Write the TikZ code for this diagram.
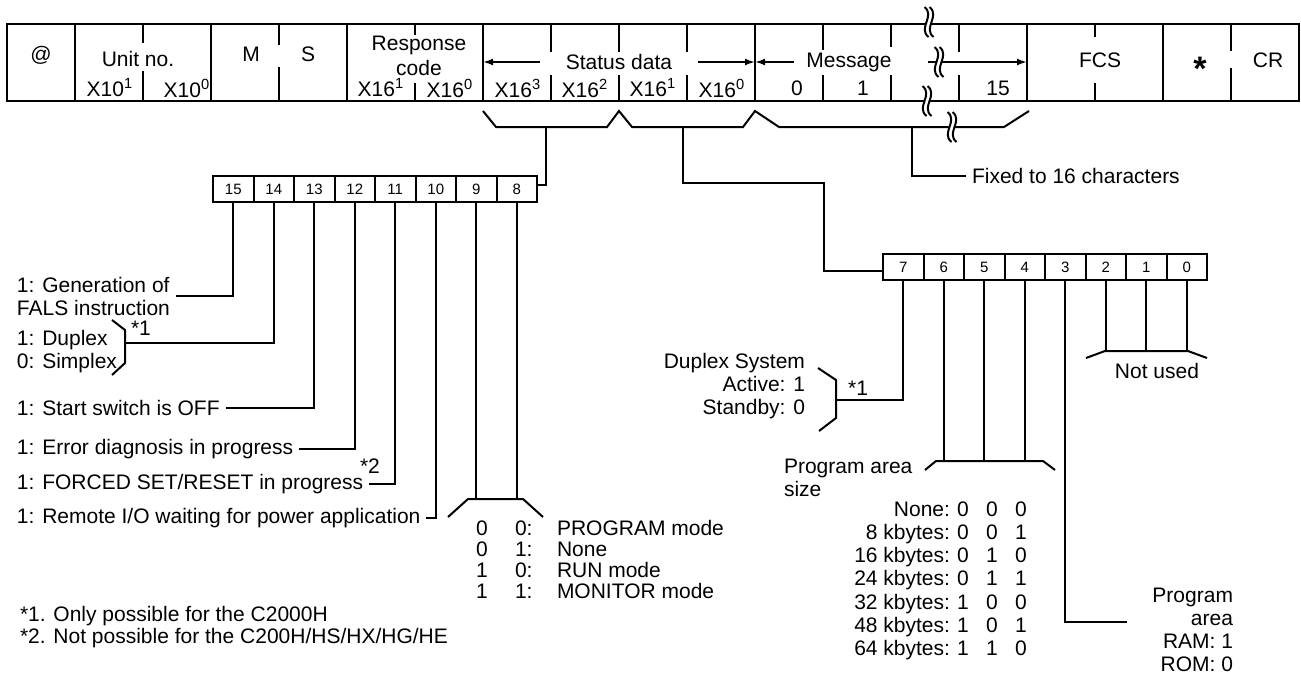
\documentclass[tikz,border=0pt]{standalone}
\usepackage{fontspec}
\setmainfont{Liberation Sans}
\usetikzlibrary{arrows.meta}

\tikzset{
  txt/.style={inner sep=1pt, outer sep=2pt, font=\fontsize{10.5}{11.5}\selectfont},
  bitcell/.style={draw, line width=1pt, minimum width=20.25pt, minimum height=13pt, inner sep=0pt, font=\fontsize{7.5}{8}\selectfont},
  wire/.style={line width=1pt},
  frm/.style={line width=1.3pt},
  flow/.style={line width=1pt, -{Latex[length=5pt,width=3.5pt]}},
}

% break mark on a line
\newcommand{\brkmark}[2]{%
  \begin{scope}[shift={(#1,#2)}]
    \fill[white] (-4.5,-15) .. controls (6.5,-6) and (-11.5,6) .. (-0.5,15) -- (4.5,15) .. controls (-6.5,6) and (11.5,-6) .. (0.5,-15) -- cycle;
    \draw[wire] (-4.5,-15) .. controls (6.5,-6) and (-11.5,6) .. (-0.5,15);
    \draw[wire] (0.5,-15) .. controls (11.5,-6) and (-6.5,6) .. (4.5,15);
  \end{scope}}

\begin{document}
\begin{tikzpicture}[x=0.5pt, y=-0.5pt, >=Latex]
        \useasboundingbox (0,0) rectangle (1301,675);

        % Frame
        \draw[frm] (7,24) rectangle (1299,101);
        \foreach \i in {1,3,5,7,11,15,17}
            \draw[frm] ({7+68*\i},24) -- ({7+68*\i},101);
        \foreach \i/\a/\b in {2/43/71, 4/45/67, 6/35/83, 8/52/75, 9/52/75, 10/52/75, 12/50/75, 13/47/75, 14/52/75, 16/37/83, 18/51/68} {
            \draw[frm] ({7+68*\i},24) -- ({7+68*\i},\a);
            \draw[frm] ({7+68*\i},\b) -- ({7+68*\i},101);
        }

        % Frame texts
        \node[txt] (at) at (41,55) {@};
        \node[txt] (unit) at (138,59) {Unit no.};
        \node[txt] (u1) at (110,88) {X10\textsuperscript{1}};
        \node[txt] (u0) at (187,88) {X10\textsuperscript{0}};
        \node[txt] (m) at (251,54) {M};
        \node[txt] (s) at (308,54) {S};
        \node[txt, align=center] (resp) at (419,56) {Response\\[1pt]code};
        \node[txt] (r1) at (381,88) {X16\textsuperscript{1}};
        \node[txt] (r0) at (450,88) {X16\textsuperscript{0}};
        \node[txt] (x3) at (518,88) {X16\textsuperscript{3}};
        \node[txt] (x2) at (585,88) {X16\textsuperscript{2}};
        \node[txt] (x1) at (653,88) {X16\textsuperscript{1}};
        \node[txt] (x0) at (722,88) {X16\textsuperscript{0}};
        \node[txt] (stat) at (619,62) {Status data};
        \node[txt] (msg) at (849,62) {Message};
        \node[txt] (c0) at (797,88) {0};
        \node[txt] (c1) at (863,88) {1};
        \node[txt] (c15) at (998,88) {15};
        \node[txt] (fcs) at (1100,60) {FCS};
        \node[txt, font=\bfseries\fontsize{17}{17}\selectfont] (ast) at (1200,69) {*};
        \node[txt] (cr) at (1268,60) {CR};

        % Arrows
        \coordinate (s0) at (483,62);
        \coordinate (s1) at (755,62);
        \coordinate (s2) at (1027,62);
        \draw[flow] ([xshift=-10pt]stat.west) -- (s0);
        \draw[flow] ([xshift=10pt]stat.east) -- (s1);
        \draw[flow] ([xshift=-3pt]msg.west) -- (s1);
        \draw[flow] ([xshift=15pt]msg.east) -- (s2);

        % Brace below the frame
        \draw[wire] (483,111) -- (496,127) -- (607,127) -- (619,111) -- (632,127) -- (743,127)
            -- (755,111) -- (779,127) -- (1004,127) -- (1029,111);
        \coordinate (sb) at (546,127);
        \coordinate (sa) at (683,127);
        \coordinate (sm) at (912,127);

        % Break marks
        \brkmark{929}{22}
        \brkmark{939}{62}
        \brkmark{927}{101}
        \brkmark{952}{127}

        % Bits 15 to 8
        \foreach \n [count=\k from 0] in {15,14,...,8}
            \node[bitcell] (b\n) at ({213+40.5*(\k+0.5)},189) {\n};
        \draw[wire] (sb) |- ([yshift=2pt]b8.east);

        \node[txt, anchor=west, align=left] (l15) at (11,296) {1: Generation of\\FALS instruction};
        \draw[wire] (b15.south) |- (l15.east);

        \draw[wire] (112,320) -- (125,330) -- (125,363) -- (112,375);
        \coordinate (d14) at (125,343);
        \draw[wire] (b14.south) |- (d14);
        \node[txt] (n14) at (141,328) {*1};
        \node[txt, anchor=west, align=left] (l14) at (11,352) {1: Duplex\\0: Simplex};

        \node[txt, anchor=west] (l13) at (11,408) {1: Start switch is OFF};
        \draw[wire] (b13.south) |- (l13.east);
        \node[txt, anchor=west] (l12) at (11,449) {1: Error diagnosis in progress};
        \draw[wire] (b12.south) |- (l12.east);
        \node[txt] (n12) at (370,466) {*2};
        \node[txt, anchor=west] (l11) at (11,484) {1: FORCED SET/RESET in progress};
        \draw[wire] (b11.south) |- (l11.east);
        \node[txt, anchor=west] (l10) at (11,518) {1: Remote I/O waiting for power application};
        \draw[wire] (b10.south) |- (l10.east);

        \draw[wire] (448,517) -- (468,499) -- (523,499) -- (543,517);
        \coordinate (m98) at (496,499);
        \draw[wire] (b9.south) |- (m98);
        \draw[wire] (b8.south) |- (m98);
        \foreach \a/\b/\t [count=\r from 0] in {0/0/PROGRAM mode, 0/1/None, 1/0/RUN mode, 1/1/MONITOR mode} {
            \node[txt, anchor=base] (ma\r) at (482,{535+21*\r}) {\a};
            \node[txt, anchor=base west] (mb\r) at (509,{535+21*\r}) {\b:};
            \node[txt, anchor=base west] (mc\r) at (551,{535+21*\r}) {\t};
        }

        % Footnotes
        \node[txt, anchor=west] (f1) at (14,616) {*1. Only possible for the C2000H};
        \node[txt, anchor=west] (f2) at (14,638) {*2. Not possible for the C200H/HS/HX/HG/HE};

        % Message length
        \node[txt, anchor=west] (fix) at (966,176) {Fixed to 16 characters};
        \draw[wire] (sm) |- (fix.west);

        % Bits 7 to 0
        \foreach \n [count=\k from 0] in {7,6,...,0}
            \node[bitcell] (r\n) at ({883+40.5*(\k+0.5)},267) {\n};
        \coordinate (sab) at (824,183);
        \draw[wire] (sa) |- (sab) |- ([yshift=-2pt]r7.west);

        \draw[wire] (818,368) -- (836,380) -- (836,418) -- (819,431);
        \coordinate (d7) at (836,400);
        \draw[wire] (r7.south) |- (d7);
        \node[txt] (n7) at (858,388) {*1};
        \node[txt, anchor=east, align=right] (l7) at (811,386) {Duplex System\\Active: 1\\Standby: 0};

        \draw[wire] (925,470) -- (936,461) -- (1043,461) -- (1055,470);
        \coordinate (m64) at (984,461);
        \foreach \n in {6,5,4}
            \draw[wire] (r\n.south) |- (m64);
        \node[txt, anchor=west, align=left] (l64) at (778,478) {Program area\\size};
        \foreach \t/\a/\b/\c [count=\r from 0] in {None/0/0/0, 8 kbytes/0/0/1, 16 kbytes/0/1/0, 24 kbytes/0/1/1, 32 kbytes/1/0/0, 48 kbytes/1/0/1, 64 kbytes/1/1/0} {
            \node[txt, anchor=base east] (k\r) at (956,{516+23.3*\r}) {\t:};
            \node[txt, anchor=base] (ka\r) at (963,{516+23.3*\r}) {\a};
            \node[txt, anchor=base] (kb\r) at (992,{516+23.3*\r}) {\b};
            \node[txt, anchor=base] (kc\r) at (1021,{516+23.3*\r}) {\c};
        }

        \coordinate (e3) at (1127,622);
        \draw[wire] (r3.south) |- (e3);
        \node[txt, anchor=east, align=right] (l3) at (1239,630) {Program\\area\\RAM: 1\\ROM: 0};

        \draw[wire] (1086,358) -- (1105,351) -- (1188,351) -- (1207,358);
        \coordinate (m20) at (1146,351);
        \foreach \n in {2,1,0}
            \draw[wire] (r\n.south) |- (m20);
        \node[txt] (nu) at (1157,371) {Not used};

    \end{tikzpicture}
\end{document}
